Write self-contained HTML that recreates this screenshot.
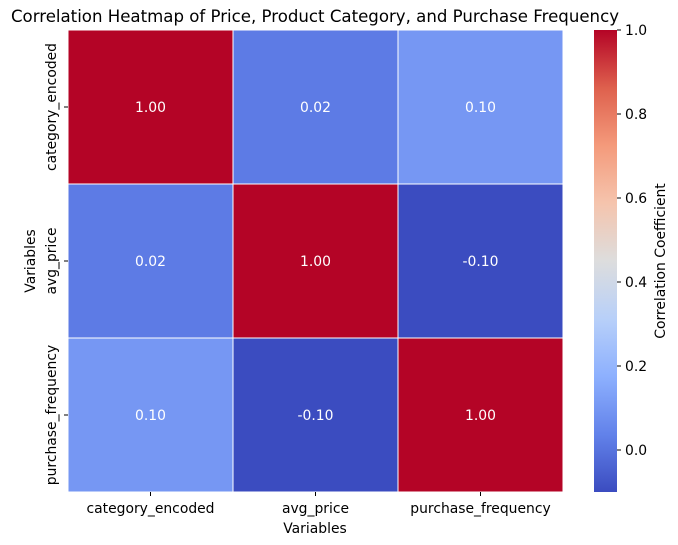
<!DOCTYPE html>
<html><head><meta charset="utf-8"><style>
body{margin:0;background:#fff}
svg{display:block;font-family:"DejaVu Sans","Liberation Sans",sans-serif}
</style></head><body>
<svg id="chart" width="678" height="545" viewBox="0 0 678 545">
<defs><linearGradient id="cw" x1="0" y1="1" x2="0" y2="0">
<stop offset="0" stop-color="#3b4cc0"/><stop offset="0.125" stop-color="#6282ea"/>
<stop offset="0.25" stop-color="#8db0fe"/><stop offset="0.375" stop-color="#b8d0f9"/>
<stop offset="0.5" stop-color="#dddddd"/><stop offset="0.625" stop-color="#f5c4ad"/>
<stop offset="0.75" stop-color="#f49a7b"/><stop offset="0.875" stop-color="#de604d"/>
<stop offset="1" stop-color="#b40426"/>
</linearGradient></defs>
<text x="315" y="22" text-anchor="middle" font-size="16.6">Correlation Heatmap of Price, Product Category, and Purchase Frequency</text>
<g id="cells"></g>
<g id="xt"></g><g id="yt"></g>
<text x="315" y="533" text-anchor="middle" font-size="13.9">Variables</text>
<text transform="translate(35,261) rotate(-90)" text-anchor="middle" font-size="13.9">Variables</text>
<rect x="594" y="30" width="23" height="462" fill="url(#cw)"/>
<g id="cbt"></g>
<text transform="translate(665,261) rotate(-90)" text-anchor="middle" font-size="13.9">Correlation Coefficient</text>
</svg>
<script>
const labels=["category_encoded","avg_price","purchase_frequency"];
const matrix=[[1.00,0.02,0.10],[0.02,1.00,-0.10],[0.10,-0.10,1.00]];
const cbTicks=[-0.0,0.2,0.4,0.6,0.8,1.0];
const vmin=-0.10, vmax=1.0;
const X0=68,Y0=30,W=495,H=462;
const NS="http://www.w3.org/2000/svg";
const stops=[[0,[59,76,192]],[0.125,[98,130,234]],[0.25,[141,176,254]],[0.375,[184,208,249]],[0.5,[221,221,221]],[0.625,[245,196,173]],[0.75,[244,154,123]],[0.875,[222,96,77]],[1,[180,4,38]]];
function color(v){let t=(v-vmin)/(vmax-vmin);t=Math.max(0,Math.min(1,t));
for(let i=1;i<stops.length;i++){if(t<=stops[i][0]){const a=stops[i-1],b=stops[i];const f=(t-a[0])/(b[0]-a[0]);
return "rgb("+a[1].map((c,k)=>Math.round(c+(b[1][k]-c)*f)).join(",")+")";}}return "rgb(180,4,38)";}
function mk(tag,attrs,parent){const e=document.createElementNS(NS,tag);for(const k in attrs)e.setAttribute(k,attrs[k]);parent.appendChild(e);return e;}
const n=labels.length,cw=W/n,ch=H/n;
const xs=i=>X0+i*cw, ys=j=>Y0+j*ch;
const cells=document.getElementById('cells');
matrix.forEach((row,j)=>row.forEach((v,i)=>{
 const r=mk('rect',{x:xs(i),y:ys(j),width:cw,height:ch,fill:color(v),stroke:'#fff','stroke-width':1},cells);
 
 
 const t=mk('text',{x:xs(i)+cw/2,y:ys(j)+ch/2+5,'text-anchor':'middle','font-size':13.9,fill:'#fff'},cells);
 t.textContent=v.toFixed(2);
 
 
}));
const xt=document.getElementById('xt'),yt=document.getElementById('yt');
labels.forEach((l,i)=>{
 mk('line',{x1:xs(i)+cw/2,x2:xs(i)+cw/2,y1:Y0+H,y2:Y0+H+4,stroke:'#000'},xt);
 const t=mk('text',{x:xs(i)+cw/2,y:Y0+H+21,'text-anchor':'middle','font-size':13.9},xt);t.textContent=l;
 
 
 const cy=ys(i)+ch/2;
 mk('line',{x1:X0-4,x2:X0,y1:cy,y2:cy,stroke:'#000'},yt);
 const u=mk('text',{transform:`translate(${X0-12},${cy}) rotate(-90)`,'text-anchor':'middle','font-size':13.9},yt);u.textContent=l;
 
 
});
const cbt=document.getElementById('cbt');
cbTicks.forEach(v=>{const y=492-(v-vmin)/(vmax-vmin)*462;
 mk('line',{x1:617,x2:621,y1:y,y2:y,stroke:'#000'},cbt);
 const t=mk('text',{x:625,y:y+5,'font-size':13.9},cbt);t.textContent=v.toFixed(1);
 
 
});
</script>
</body></html>
